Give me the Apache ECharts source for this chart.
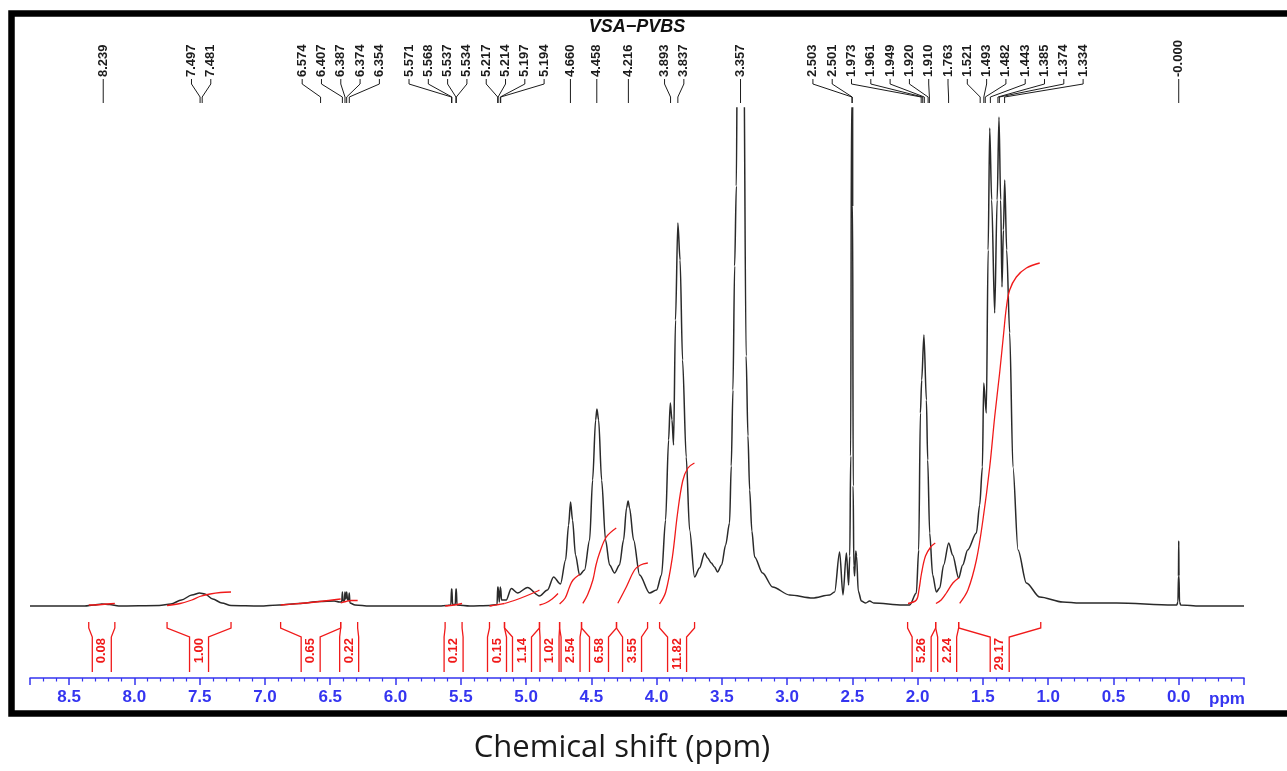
<!DOCTYPE html>
<html><head><meta charset="utf-8">
<script src="https://cdn.jsdelivr.net/npm/echarts/dist/echarts.min.js"></script>
<style>html,body{margin:0;padding:0;background:#fff}#c{width:1287px;height:771px}</style>
</head><body><div id="c"></div>
<script>
// ---------- DATA ----------
// spectrum: [chemical shift (ppm), intensity (arbitrary units, baseline = 0)]
const spectrum = [
[8.80,0],[8.38,0],[8.31,1],[8.25,2],[8.19,1.5],[8.12,0],
[7.81,0.5],[7.72,2],[7.64,6],[7.56,11],[7.50,13],[7.46,12],[7.40,7],[7.33,3],[7.26,0.5],
[7.04,0],[6.89,1],[6.74,2.5],[6.58,4.5],[6.47,5],[6.43,4],
[6.412,4],[6.407,14],[6.402,5],[6.392,5],[6.387,14],[6.381,7],[6.374,14],[6.367,6],[6.360,6],[6.354,13],[6.349,3],
[6.31,1],[6.20,0],
[5.66,0],[5.61,0.5],[5.576,1],[5.571,17],[5.5695,10],[5.568,17],[5.563,1.5],[5.542,1.5],[5.537,17],[5.5355,10],[5.534,17],[5.529,1],
[5.43,0],[5.28,0.5],[5.222,1.5],[5.217,19],[5.2155,12],[5.214,19],[5.205,4],[5.197,19],[5.1955,12],[5.194,18],[5.188,6],
[5.152,6],[5.113,17.5],[5.065,13],[4.989,18.5],[4.897,10],[4.836,16],[4.789,29],[4.736,22],
[4.697,46],[4.674,81],[4.659,104],[4.644,86],[4.621,51],[4.590,31],[4.552,36],[4.513,66],[4.490,126],[4.467,186],[4.457,197],[4.444,186],[4.421,126],[4.391,66],[4.360,41],[4.322,33],[4.284,41],[4.253,66],[4.230,98],[4.218,105],[4.207,98],[4.176,66],[4.130,31],[4.054,13],[4.000,16],[3.962,31],[3.931,86],[3.908,166],[3.895,203],[3.882,186],[3.870,161],[3.855,286],[3.837,383],[3.820,346],[3.801,246],[3.773,149],[3.747,76],[3.709,29],[3.671,38],[3.632,53],[3.609,48],[3.581,43],[3.556,39],[3.533,34],[3.502,41],[3.471,61],[3.441,83],[3.428,140],[3.415,216],[3.402,340],[3.389,420],[3.380,600],[3.367,850],[3.357,930],[3.347,850],[3.334,600],[3.314,250],[3.300,170],[3.287,116],[3.270,75],[3.249,49],[3.188,33],[3.111,19],[2.981,11],[2.805,8],[2.674,11],
[2.636,14],[2.598,54],[2.572,11],[2.546,53],[2.529,21],[2.520,50],[2.513,150],[2.507,500],[2.502,3000],[2.498,400],[2.494,120],[2.489,40],[2.483,30],[2.474,55],[2.468,50],[2.455,15],[2.431,5],[2.398,3],[2.368,5],[2.337,3],[2.115,1],[2.061,1],
[2.010,13],[1.992,56],[1.979,193],[1.969,226],[1.952,271],[1.933,206],[1.923,146],[1.908,73],[1.885,31],[1.857,14],[1.831,18],[1.801,41],[1.762,63],[1.732,51],[1.686,28],[1.655,41],[1.617,56],[1.550,73],[1.525,101],[1.504,139],[1.494,223],[1.474,193],[1.460,356],[1.448,478],[1.433,406],[1.410,293],[1.391,406],[1.377,489],[1.364,406],[1.354,319],[1.343,376],[1.333,426],[1.318,356],[1.295,273],[1.270,139],[1.231,56],[1.167,23],[1.065,9],[0.889,4],[0.759,3],[0.475,3],[0.046,1],[0.015,1],[0.006,4],[0.002,30],[0.000,65],[-0.002,30],[-0.006,4],[-0.015,1],[-0.161,0],[-0.50,0]
];

// peak pick labels (ppm)
const peakShifts = ["8.239","7.497","7.481","6.574","6.407","6.387","6.374","6.354","5.571","5.568","5.537","5.534","5.217","5.214","5.197","5.194","4.660","4.458","4.216","3.893","3.837","3.357","2.503","2.501","1.973","1.961","1.949","1.920","1.910","1.763","1.521","1.493","1.482","1.443","1.385","1.374","1.334","-0.000"];

// integration regions (ppm) and values
const integralFrom = [8.35,7.75,6.88,6.42,5.62,5.28,5.165,4.897,4.743,4.575,4.307,3.977,2.077,1.862,1.686];
const integralTo   = [8.15,7.26,6.42,6.29,5.49,5.165,4.897,4.743,4.575,4.307,4.069,3.709,1.862,1.686,1.057];
const integralValues = ["0.08","1.00","0.65","0.22","0.12","0.15","1.14","1.02","2.54","6.58","3.55","11.82","5.26","2.24","29.17"];

// integral curves: [ppm, height]
const integralCurves = [
[[8.35,1],[8.25,1.5],[8.15,2.5]],
[[7.75,0.5],[7.65,2.5],[7.56,6],[7.50,9.5],[7.42,12],[7.34,13.5],[7.26,14]],
[[6.88,1],[6.74,2.5],[6.58,4.5],[6.42,7]],
[[6.42,3],[6.38,4.5],[6.34,5.5],[6.29,5.5]],
[[5.62,0],[5.55,1],[5.49,2.5]],
[[5.28,0],[5.21,1.5],[5.165,2.5]],
[[5.165,2.5],[5.08,6],[5.00,10],[4.92,14.5],[4.897,16]],
[[4.897,1],[4.85,3],[4.80,7],[4.755,12.5]],
[[4.743,2],[4.70,8],[4.667,19],[4.64,26],[4.59,31.5]],
[[4.565,2.7],[4.529,11],[4.488,26],[4.464,41],[4.437,53],[4.385,69],[4.309,78]],
[[4.297,2.7],[4.232,19],[4.169,36],[4.123,41],[4.067,43]],
[[3.977,2],[3.93,14],[3.88,48],[3.84,92],[3.80,125],[3.76,138],[3.71,143]],
[[2.074,2.5],[2.01,6],[1.99,16],[1.97,33],[1.94,50],[1.90,59],[1.865,63]],
[[1.86,2.5],[1.82,6],[1.78,13],[1.73,23],[1.686,28]],
[[1.678,2.7],[1.615,16],[1.550,46],[1.500,86],[1.448,139],[1.410,189],[1.372,233],[1.341,273],[1.320,299],[1.295,316],[1.244,329],[1.167,338],[1.065,343]]
];

const xTickLabels = ["0.0","0.5","1.0","1.5","2.0","2.5","3.0","3.5","4.0","4.5","5.0","5.5","6.0","6.5","7.0","7.5","8.0","8.5"];
const sampleName = "VSA\u2212PVBS";
const axisTitle = "Chemical shift (ppm)";

// ---------- helpers ----------
function spread(xs, gap){
  let groups = xs.map(x => ({xs:[x]}));
  const pos = g => { const n = g.xs.length; const m = g.xs.reduce((a,b)=>a+b,0)/n; return {first:m-(n-1)/2*gap, last:m+(n-1)/2*gap}; };
  let merged = true;
  while (merged) {
    merged = false;
    for (let i = 0; i < groups.length-1; i++) {
      if (pos(groups[i+1]).first - pos(groups[i]).last < gap - 0.01) {
        groups[i] = {xs: groups[i].xs.concat(groups[i+1].xs)};
        groups.splice(i+1,1); merged = true; break;
      }
    }
  }
  const out = [];
  groups.forEach(g => { const p = pos(g); g.xs.forEach((_,k)=>out.push(p.first + k*gap)); });
  return out;
}
const peakPpm = peakShifts.map(s => Math.abs(parseFloat(s)));
const BLUE = '#3535f0', RED = '#f01a1a', INK = '#1c1c1c';
const FONT = '"Liberation Sans", Arial, sans-serif';

const chart = echarts.init(document.getElementById('c'), null, {renderer:'canvas'});

const series = [
  {
    type:'line', data: spectrum, showSymbol:false, symbol:'none', clip:true,
    smooth:0.3, smoothMonotone:'x',
    lineStyle:{color:'#2a2a2a', width:1.5}, z:3, silent:true
  }
];
integralCurves.forEach(c => series.push({
  type:'line', data:c, showSymbol:false, symbol:'none', smooth:0.35, clip:true,
  lineStyle:{color:RED, width:1.3}, z:4, silent:true
}));
// peak labels
series.push({
  type:'custom', coordinateSystem:'cartesian2d', clip:false, z:5, silent:true,
  data: peakPpm.map(p => [p, 0]),
  renderItem: function(params, api){
    const i = params.dataIndex;
    const px = peakPpm.map(p => api.coord([p,0])[0]);
    const lx = spread(px, 19.3);
    const x0 = lx[i], x1 = px[i];
    return {type:'group', children:[
      {type:'polyline', shape:{points:[[x0,79],[x0,84],[x1,97],[x1,103]]}, style:{stroke:INK, lineWidth:1, fill:null}},
      {type:'text', x:x0, y:77, rotation:Math.PI/2,
       style:{text:peakShifts[i], x:0, y:0, align:'left', verticalAlign:'middle', fill:INK, fontSize:13, fontWeight:'bold', fontFamily:FONT}}
    ]};
  }
});
// integral brackets
series.push({
  type:'custom', coordinateSystem:'cartesian2d', clip:false, z:5, silent:true,
  data: integralFrom.map((a,k) => [(a+integralTo[k])/2, 0]),
  renderItem: function(params, api){
    const i = params.dataIndex;
    const centers = integralFrom.map((a,k) => api.coord([(a+integralTo[k])/2, 0])[0]);
    const cols = spread(centers, 20);
    const xl = api.coord([integralFrom[i],0])[0], xr = api.coord([integralTo[i],0])[0];
    const y0 = api.coord([0,0])[1];
    const c = cols[i], h = 9.5;
    const st = {stroke:RED, lineWidth:1.3, fill:null};
    return {type:'group', children:[
      {type:'polyline', shape:{points:[[xl,y0+16],[xl,y0+22],[c-h,y0+31],[c-h,y0+66]]}, style:st},
      {type:'polyline', shape:{points:[[xr,y0+16],[xr,y0+22],[c+h,y0+31],[c+h,y0+66]]}, style:st},
      {type:'text', x:c, y:y0+32, rotation:Math.PI/2,
       style:{text:integralValues[i], x:0, y:0, align:'right', verticalAlign:'middle', fill:RED, fontSize:13, fontWeight:'bold', fontFamily:FONT}}
    ]};
  }
});

chart.setOption({
  animation:false,
  backgroundColor:'#ffffff',
  grid:{left:30, right:43, top:108, bottom:93, containLabel:false},
  xAxis:{
    type:'value', inverse:true, min:-0.5, max:8.8, interval:0.5,
    axisLine:{show:true, onZero:false, lineStyle:{color:BLUE, width:1.5}},
    axisTick:{show:true, length:7, lineStyle:{color:BLUE, width:1.5}},
    minorTick:{show:true, splitNumber:5, length:3.5, lineStyle:{color:BLUE, width:1.2}},
    splitLine:{show:false},
    axisLabel:{
      color:BLUE, fontSize:17, fontWeight:'bold', fontFamily:FONT, margin:11,
      showMinLabel:false, showMaxLabel:false,
      formatter: v => { const k = Math.round(v/0.5); return (k>=0 && k<xTickLabels.length && Math.abs(v-k*0.5)<1e-6) ? xTickLabels[k] : ''; }
    }
  },
  yAxis:{type:'value', min:-72, max:498, show:false},
  series: series,
  graphic:[
    {type:'rect', shape:{x:11.5, y:13.5, width:1320, height:700}, style:{fill:null, stroke:'#000', lineWidth:6.5}, z:10},
    {type:'text', x:637, y:27, style:{text:sampleName, align:'center', verticalAlign:'middle', fill:'#111', fontSize:18, fontWeight:'bold', fontStyle:'italic', fontFamily:FONT}, z:10},
    {type:'text', x:1227, y:699, style:{text:'ppm', align:'center', verticalAlign:'middle', fill:BLUE, fontSize:17, fontWeight:'bold', fontFamily:FONT}, z:10},
    {type:'text', x:622, y:748, style:{text:axisTitle, align:'center', verticalAlign:'middle', fill:'#1a1a1a', fontSize:31, fontFamily:'"Open Sans", "Noto Sans", sans-serif'}, z:10}
  ]
});
</script>
</body></html>
